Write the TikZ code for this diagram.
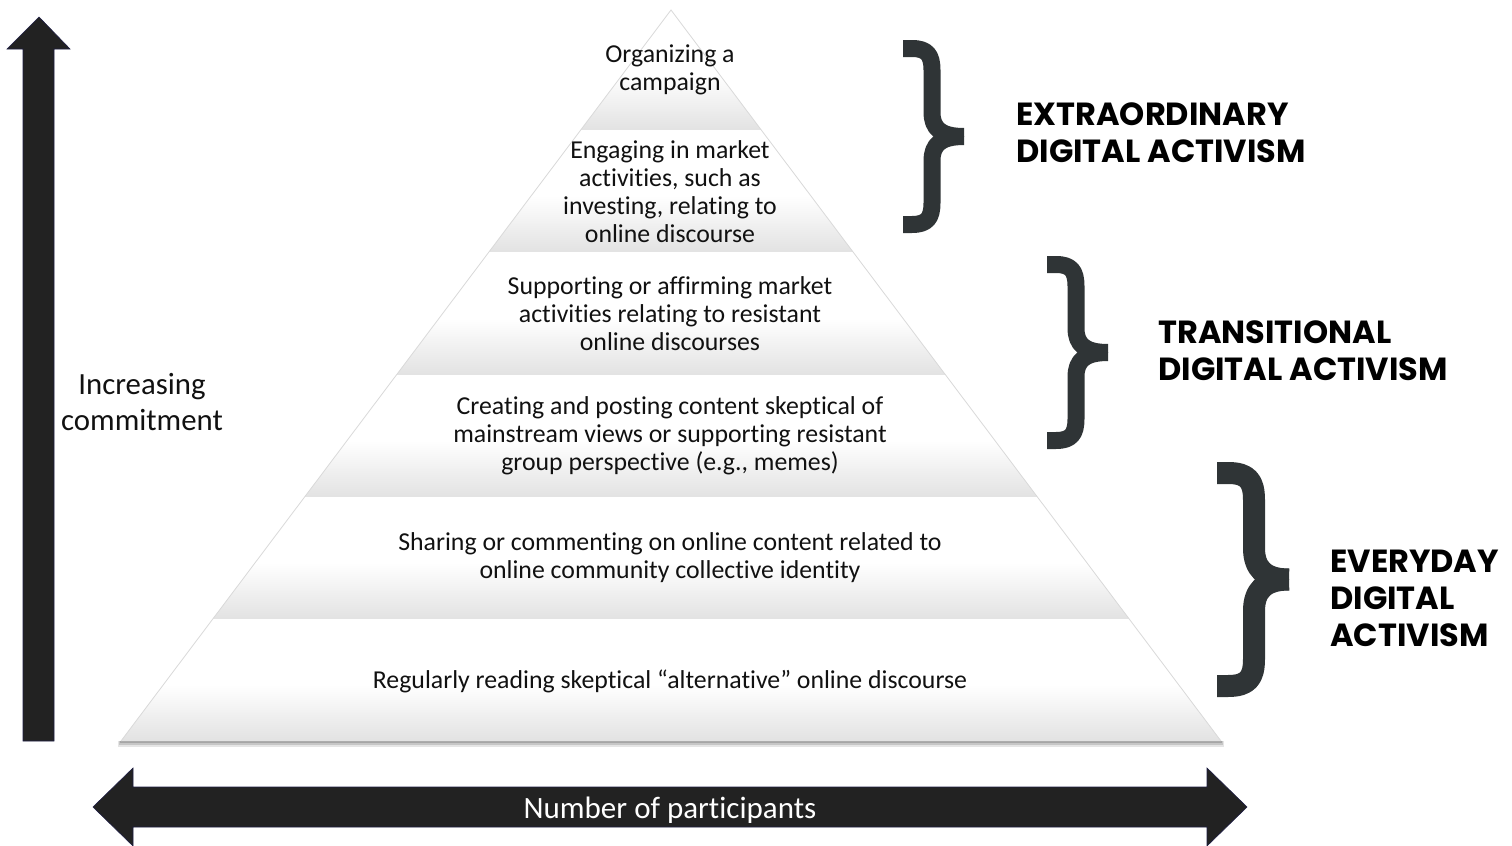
\documentclass[tikz,border=0pt]{standalone}
\usepackage{fontspec}
\setmainfont{Carlito}[Ligatures=CommonOff]
\newfontfamily\headfont{Poppins}
\definecolor{arrowc}{HTML}{222222}
\definecolor{bracec}{HTML}{2F3436}
\definecolor{bandlow}{HTML}{E2E2E2}
\definecolor{txt}{HTML}{111111}
% each pyramid layer: white in the upper half, fading to light grey at its base
\pgfdeclareverticalshading{band}{100bp}{color(0bp)=(bandlow); color(25bp)=(bandlow); color(48bp)=(white); color(100bp)=(white)}
\tikzset{
  layer/.style={shading=band},
  layertext/.style={font=\fontsize{12.9}{14}\selectfont, text=txt, align=center, inner sep=0pt},
  tier/.style={font=\headfont\bfseries\fontsize{16}{18.5}\selectfont, align=left, anchor=west, inner sep=0pt},
  curly/.style={draw=bracec, line width=8.5pt, line cap=butt, line join=round},
  bigarrow/.style={fill=arrowc, draw=arrowc!85!blue, line width=0.3pt},
}
\begin{document}
\begin{tikzpicture}[x=0.5pt,y=-0.5pt]
\useasboundingbox (0,0) rectangle (1512,846);

% drop shadow along the pyramid base
\fill[gray!20] (118,741) rectangle (1224,747);
\fill[gray!45] (119,741) rectangle (1223,745);
\fill[gray!70] (120,741) rectangle (1222,743);

% pyramid layers, top to bottom
\path[layer] (671,10) -- (761.3,130) -- (580.7,130) -- cycle;
\path[layer] (580.7,130) -- (761.3,130) -- (853.1,252) -- (488.9,252) -- cycle;
\path[layer] (488.9,252) -- (853.1,252) -- (945.6,375) -- (396.4,375) -- cycle;
\path[layer] (396.4,375) -- (945.6,375) -- (1037.4,497) -- (304.6,497) -- cycle;
\path[layer] (304.6,497) -- (1037.4,497) -- (1129.2,619) -- (212.8,619) -- cycle;
\path[layer] (212.8,619) -- (1129.2,619) -- (1221,741) -- (121,741) -- cycle;
\draw[gray!30, line width=0.4pt] (121,741) -- (671,10) -- (1221,741);

% layer labels
\node[layertext] (l1) at (670,70) {Organizing a\\campaign};
\node[layertext] (l2) at (670,192) {Engaging in market\\activities, such as\\investing, relating to\\online discourse};
\node[layertext] (l3) at (670,314) {Supporting or affirming market\\activities relating to resistant\\online discourses};
\node[layertext] (l4) at (670,436) {Creating and posting content skeptical of\\mainstream views or supporting resistant\\group perspective (e.g., memes)};
\node[layertext] (l5) at (670,558) {Sharing or commenting on online content related to\\online community collective identity};
\node[layertext] (l6) at (670,681) {Regularly reading skeptical “alternative” online discourse};

% vertical axis arrow
\path[bigarrow] (23,741) -- (23,49) -- (7,49) -- (39,17) -- (70,49) -- (54,49) -- (54,741) -- cycle;
\node[font=\fontsize{15.4}{18}\selectfont, text=txt, align=center] (commit) at (142,402) {Increasing\\commitment};

% horizontal axis arrow
\path[bigarrow] (93,807) -- (133,768) -- (133,787) -- (1207,787) -- (1207,768) -- (1247,807)
  -- (1207,846) -- (1207,827) -- (133,827) -- (133,846) -- cycle;
\node[font=\fontsize{15.5}{18}\selectfont, text=white] (participants) at (670,810) {Number of participants};

% braces
\draw[curly] (903,48.5) -- (912,48.5) .. controls (927,48.5) and (932,55) .. (932,70) -- (932,112)
  .. controls (932,128) and (940,136.5) .. (964,136.5);
\draw[curly] (903,224.5) -- (912,224.5) .. controls (927,224.5) and (932,218) .. (932,203) -- (932,161)
  .. controls (932,145) and (940,136.5) .. (964,136.5);
\begin{scope}[shift={(144,216)}]
\draw[curly] (903,48.5) -- (912,48.5) .. controls (927,48.5) and (932,55) .. (932,70) -- (932,112)
  .. controls (932,128) and (940,136.5) .. (964,136.5);
\draw[curly] (903,224.5) -- (912,224.5) .. controls (927,224.5) and (932,218) .. (932,203) -- (932,161)
  .. controls (932,145) and (940,136.5) .. (964,136.5);
\end{scope}
\draw[curly, line width=11pt] (1217,473) -- (1228,473) .. controls (1248,473) and (1254,481) .. (1254,500) -- (1254,548)
  .. controls (1254,568) and (1264,579.5) .. (1289,579.5);
\draw[curly, line width=11pt] (1217,686) -- (1228,686) .. controls (1248,686) and (1254,678) .. (1254,659) -- (1254,611)
  .. controls (1254,591) and (1264,579.5) .. (1289,579.5);

% tier headings
\node[tier] (extra) at (1016,133) {EXTRAORDINARY\\DIGITAL ACTIVISM};
\node[tier] (trans) at (1158,351) {TRANSITIONAL\\DIGITAL ACTIVISM};
\node[tier] (every) at (1330,598) {EVERYDAY\\DIGITAL\\ACTIVISM};
\end{tikzpicture}
\end{document}
